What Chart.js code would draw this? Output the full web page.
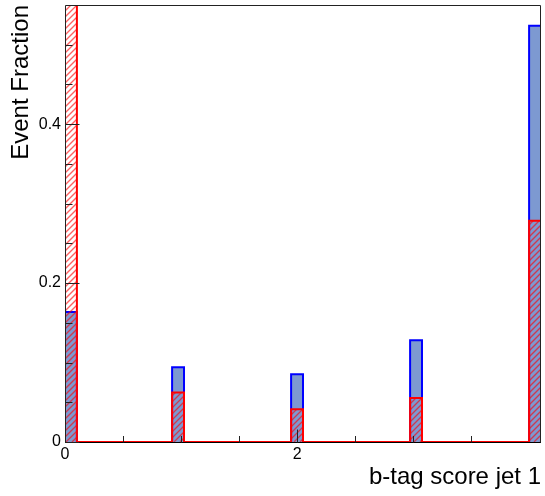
<!DOCTYPE html>
<html>
<head>
<meta charset="utf-8">
<script src="https://cdn.jsdelivr.net/npm/chart.js@4/dist/chart.umd.min.js"></script>
<style>
  html, body { margin: 0; padding: 0; background: #fff; }
  #grafico { display: block; }
</style>
</head>
<body>
<canvas id="grafico" width="545" height="496"></canvas>
<script>
// histogram binning: 40 bins between 0 and 4.1
const binLow = 0;
const binHigh = 4.1;
const nBins = 40;

// event fraction per bin
const fracBlue = [
  0.1635, 0, 0, 0, 0, 0, 0, 0, 0, 0.0940,
  0,      0, 0, 0, 0, 0, 0, 0, 0, 0.0853,
  0,      0, 0, 0, 0, 0, 0, 0, 0, 0.1280,
  0,      0, 0, 0, 0, 0, 0, 0, 0, 0.5240
];
const fracRed = [
  0.5626, 0, 0, 0, 0, 0, 0, 0, 0, 0.0622,
  0,      0, 0, 0, 0, 0, 0, 0, 0, 0.0412,
  0,      0, 0, 0, 0, 0, 0, 0, 0, 0.0555,
  0,      0, 0, 0, 0, 0, 0, 0, 0, 0.2785
];

// labelled axis ticks
const xMajorValues = [0, 2, 4];
const xTickLabels = ['0', '2', '4'];
const yMajorValues = [0, 0.2, 0.4];
const yTickLabels = ['0', '0.2', '0.4'];

const xTitle = 'b-tag score jet 1';
const yTitle = 'Event Fraction';

const FONT = "'Liberation Sans', Arial, Helvetica, sans-serif";
Chart.defaults.font.family = FONT;

// one point per lower bin edge, plus the upper edge of the last bin
function toSteps(values) {
  const w = (binHigh - binLow) / nBins;
  const pts = values.map((v, i) => ({ x: binLow + i * w, y: v }));
  pts.push({ x: binHigh, y: values[values.length - 1] });
  return pts;
}

function findIndex(list, v) {
  return list.findIndex(m => Math.abs(m - v) < 1e-6);
}

function tickLabel(v, majors, labels) {
  const i = findIndex(majors, v);
  return i >= 0 ? labels[i] : '';
}

// "/" hatching under a stepped dataset, drawn before its outline
const hatch = {
  id: 'hatch',
  beforeDatasetDraw(chart, args) {
    const ds = chart.data.datasets[args.index];
    if (!ds.hatchColor) return;
    const pts = args.meta.data;
    const { ctx, chartArea: a } = chart;
    const y0 = chart.scales.y.getPixelForValue(0);
    ctx.save();
    ctx.beginPath();
    ctx.rect(a.left, a.top, a.right - a.left, a.bottom - a.top);
    ctx.clip();
    ctx.beginPath();
    ctx.moveTo(pts[0].x, y0);
    pts.forEach((p, i) => {
      ctx.lineTo(p.x, p.y);
      if (i + 1 < pts.length) ctx.lineTo(pts[i + 1].x, p.y);
    });
    ctx.lineTo(pts[pts.length - 1].x, y0);
    ctx.closePath();
    ctx.clip();

    const h = a.bottom - a.top;
    const step = 6;
    ctx.strokeStyle = ds.hatchColor;
    ctx.lineWidth = 1.3;
    ctx.beginPath();
    for (let k = -h; k < a.right - a.left; k += step) {
      ctx.moveTo(a.left + k, a.bottom);
      ctx.lineTo(a.left + k + h, a.bottom - h);
    }
    ctx.stroke();
    ctx.restore();
  }
};

// frame and inward ticks in the ROOT style
const frame = {
  id: 'frame',
  beforeDatasetsDraw(chart) {
    const { ctx, chartArea: a } = chart;
    ctx.save();
    ctx.strokeStyle = '#000';
    ctx.lineWidth = 1;
    ctx.beginPath();
    ctx.moveTo(a.left, Math.round(a.bottom) + 0.5);
    ctx.lineTo(a.right, Math.round(a.bottom) + 0.5);
    ctx.stroke();
    ctx.restore();
  },
  afterDatasetsDraw(chart) {
    const { ctx, chartArea: a, scales } = chart;
    const L = Math.round(a.left) + 0.5, R = Math.round(a.right) - 0.5;
    const T = Math.round(a.top) + 0.5, B = Math.round(a.bottom) + 0.5;
    ctx.save();
    ctx.strokeStyle = '#222';
    ctx.lineWidth = 1;
    ctx.beginPath();
    ctx.moveTo(L, B); ctx.lineTo(L, T); ctx.lineTo(R, T); ctx.lineTo(R, B);

    scales.x.ticks.forEach(t => {
      const v = t.value;
      if (Math.abs(v * 2 - Math.round(v * 2)) > 1e-6 || v > 4 + 1e-6) return;
      const px = Math.round(scales.x.getPixelForValue(v)) + 0.5;
      const len = findIndex(xMajorValues, v) >= 0 ? 13 : 6.5;
      ctx.moveTo(px, B); ctx.lineTo(px, B - len);
    });
    scales.y.ticks.forEach(t => {
      const v = t.value;
      if (v > 0.55 - 1e-6) return;
      const py = Math.round(scales.y.getPixelForValue(v)) + 0.5;
      const len = findIndex(yMajorValues, v) >= 0 ? 14 : 7;
      ctx.moveTo(L, py); ctx.lineTo(L + len, py);
    });
    ctx.stroke();
    ctx.restore();
  }
};

const ctx = document.getElementById('grafico').getContext('2d');
new Chart(ctx, {
  type: 'line',
  data: {
    datasets: [
      {
        label: 'blue',
        data: toSteps(fracBlue),
        stepped: 'before',
        borderColor: '#0000ff',
        borderWidth: 2,
        backgroundColor: '#7d99d1',
        fill: 'origin',
        pointRadius: 0,
        order: 2
      },
      {
        label: 'red',
        data: toSteps(fracRed),
        stepped: 'before',
        borderColor: '#ff0000',
        borderWidth: 2,
        backgroundColor: 'rgba(0,0,0,0)',
        fill: false,
        hatchColor: 'rgba(255, 0, 0, 0.62)',
        pointRadius: 0,
        order: 1
      }
    ]
  },
  options: {
    responsive: false,
    animation: false,
    layout: { padding: { top: 5, right: 4, left: 0, bottom: 0 } },
    plugins: {
      legend: { display: false },
      tooltip: { enabled: false }
    },
    scales: {
      x: {
        type: 'linear',
        min: binLow,
        max: binHigh,
        afterFit(s) {
          s.height = 54;
          s.paddingLeft = 0;
          s.paddingRight = 0;
        },
        border: { display: false },
        grid: { display: false, drawTicks: false },
        ticks: {
          stepSize: 0.5,
          autoSkip: false,
          maxRotation: 0,
          padding: 3,
          color: '#000',
          font: { size: 16 },
          callback: v => tickLabel(v, xMajorValues, xTickLabels)
        },
        title: {
          display: true,
          text: xTitle,
          align: 'end',
          color: '#000',
          font: { size: 24 },
          padding: { top: 0, bottom: 4 }
        }
      },
      y: {
        type: 'linear',
        min: 0,
        max: 0.55,
        afterFit(s) {
          s.width = 65;
          s.paddingTop = 0;
          s.paddingBottom = 0;
        },
        border: { display: false },
        grid: { display: false, drawTicks: false },
        ticks: {
          stepSize: 0.05,
          autoSkip: false,
          padding: 4,
          color: '#000',
          font: { size: 16 },
          callback: v => tickLabel(v, yMajorValues, yTickLabels)
        },
        title: {
          display: true,
          text: yTitle,
          align: 'end',
          color: '#000',
          font: { size: 24 },
          padding: { top: 7, bottom: 0 }
        }
      }
    }
  },
  plugins: [hatch, frame]
});
</script>
</body>
</html>
